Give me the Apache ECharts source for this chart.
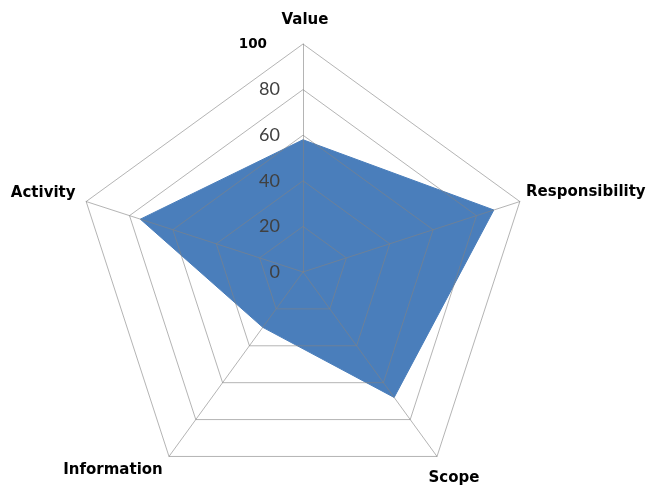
<!DOCTYPE html>
<html>
<head>
<meta charset="utf-8">
<script src="https://cdn.jsdelivr.net/npm/echarts@6/dist/echarts.min.js"></script>
<style>
html,body{margin:0;padding:0;background:#fff;}
#chart{width:648px;height:487px;}
</style>
</head>
<body>
<div id="chart"></div>
<script>
// Indicators listed counter-clockwise from the top (ECharts radar order)
var indicatorNames = ['Value', 'Activity', 'Information', 'Scope', 'Responsibility'];
var seriesValues = [58, 75, 30, 68, 88];
var axisMax = 100;
var tickStep = 20;

var namePads = {
  'Value': [0, 0, 48, 4],
  'Responsibility': [0, 0, 19, 132],
  'Scope': [43, 0, 0, 34],
  'Information': [27, 112, 0, 0],
  'Activity': [0, 86, 17, 0]
};
var nameRich = {};
indicatorNames.forEach(function (n, i) {
  nameRich['k' + i] = {
    fontFamily: 'DejaVu Sans', fontWeight: 'bold', fontSize: 15,
    color: '#000', padding: namePads[n]
  };
});

var indicators = indicatorNames.map(function (n, i) {
  var ind = { name: n, max: axisMax, min: 0 };
  if (i === 0) {
    ind.axisLabel = {
      show: true,
      margin: 23,
      fontFamily: 'Lato',
      fontSize: 18,
      color: '#404040',
      formatter: function (v) {
        return v === axisMax ? '{b|' + v + '}' : '{n|' + v + '}';
      },
      rich: {
        b: { fontFamily: 'DejaVu Sans', fontWeight: 'bold', fontSize: 13.5, color: '#000', padding: [0, 13, 0, 0] },
        n: { fontFamily: 'Lato', fontSize: 18, color: '#404040' }
      }
    };
  }
  return ind;
});

var chart = echarts.init(document.getElementById('chart'));
chart.setOption({
  backgroundColor: '#ffffff',
  animation: false,
  radar: {
    z: 5,
    center: [303, 272],
    radius: 228,
    startAngle: 90,
    shape: 'polygon',
    splitNumber: axisMax / tickStep,
    indicator: indicators,
    nameGap: 0,
    axisName: {
      align: 'center',
      verticalAlign: 'middle',
      fontFamily: 'DejaVu Sans',
      fontWeight: 'bold',
      fontSize: 15,
      color: '#000',
      formatter: function (name) {
        var idx = indicatorNames.indexOf(name);
        return '{k' + idx + '|' + name + '}';
      },
      rich: nameRich
    },
    axisLabel: { show: false },
    axisTick: { show: false },
    axisLine: { lineStyle: { color: 'rgba(130,130,130,0.6)', width: 1 } },
    splitLine: { lineStyle: { color: 'rgba(130,130,130,0.6)', width: 1 } },
    splitArea: { show: false }
  },
  series: [{
    type: 'radar',
    z: 2,
    symbol: 'none',
    data: [{
      value: seriesValues,
      lineStyle: { color: '#4a7ebb', width: 1 },
      areaStyle: { color: '#4a7ebb', opacity: 1 }
    }]
  }]
});
</script>
</body>
</html>
